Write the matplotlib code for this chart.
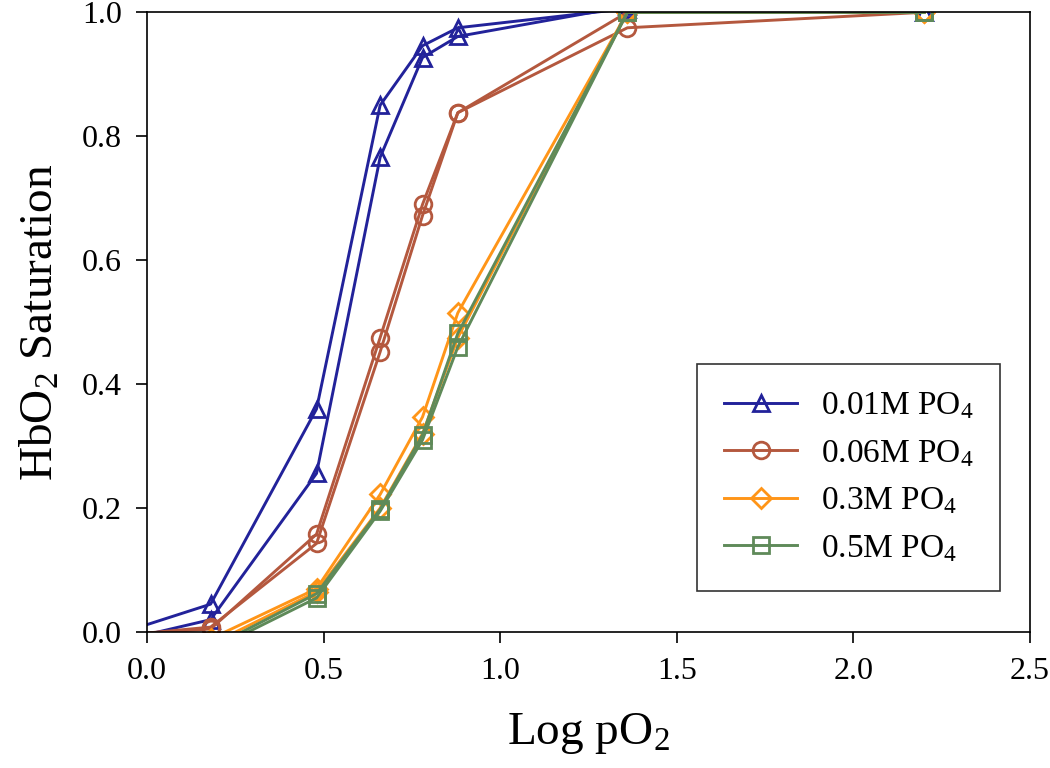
import matplotlib.pyplot as plt

plt.rcParams['font.family'] = ['Liberation Serif', 'DejaVu Serif']
plt.rcParams['mathtext.fontset'] = 'custom'
plt.rcParams['mathtext.rm'] = 'Liberation Serif'
plt.rcParams['mathtext.it'] = 'Liberation Serif:italic'
plt.rcParams['mathtext.default'] = 'regular'

# log pO2 values (first point lies outside the plotted range)
log_po2 = [-0.12, 0.18, 0.48, 0.66, 0.78, 0.88, 1.36, 2.2]
log_po2_hi = [0.18, 0.48, 0.66, 0.78, 0.88, 1.36, 2.2]

# two runs per phosphate concentration
sat_001_a = [-0.010, 0.045, 0.360, 0.850, 0.946, 0.975, 1.006, 1.0]
sat_001_b = [-0.020, 0.020, 0.256, 0.766, 0.927, 0.961, 1.010, 1.0]
sat_006_a = [-0.006, 0.005, 0.158, 0.475, 0.690, 0.838, 0.975, 1.0]
sat_006_b = [-0.008, 0.008, 0.143, 0.452, 0.672, 0.838, 1.000, 1.0]
sat_03_a = [-0.011, 0.070, 0.222, 0.347, 0.515, 1.0, 1.0]
sat_03_b = [-0.020, 0.065, 0.200, 0.320, 0.475, 1.0, 1.0]
sat_05_a = [-0.026, 0.062, 0.198, 0.318, 0.482, 1.0, 1.0]
sat_05_b = [-0.030, 0.055, 0.195, 0.310, 0.460, 1.0, 1.0]

labels = ['0.01M PO$_4$', '0.06M PO$_4$', '0.3M PO$_4$', '0.5M PO$_4$']
colors = ['#22229a', '#b4583e', '#ff9518', '#5f8a59']
markers = ['^', 'o', 'D', 's']
msizes = [12, 12, 10, 11]

series = [
    (log_po2, [sat_001_a, sat_001_b]),
    (log_po2, [sat_006_a, sat_006_b]),
    (log_po2_hi, [sat_03_a, sat_03_b]),
    (log_po2_hi, [sat_05_a, sat_05_b]),
]

fig = plt.figure(figsize=(10.5, 7.68), dpi=100)
ax = fig.add_axes([0.14, 0.177, 0.841, 0.807])

for k, (xs, runs) in enumerate(series):
    for j, ys in enumerate(runs):
        ax.plot(xs, ys, color=colors[k], marker=markers[k], ms=msizes[k],
                mfc='none', mew=2.0, lw=2.1,
                label=labels[k] if j == 0 else None)

ax.set_xlim(0, 2.5)
ax.set_ylim(0, 1.0)
ax.set_xticks([0.0, 0.5, 1.0, 1.5, 2.0, 2.5])
ax.set_yticks([0.0, 0.2, 0.4, 0.6, 0.8, 1.0])
ax.xaxis.set_major_formatter(plt.FormatStrFormatter('%.1f'))
ax.yaxis.set_major_formatter(plt.FormatStrFormatter('%.1f'))
ax.tick_params(direction='out', length=8, width=1.2, labelsize=23, pad=10,
               top=False, right=False)
for sp in ax.spines.values():
    sp.set_linewidth(1.2)

ax.set_xlabel('Log pO$_2$', fontsize=34, labelpad=18)
ax.set_ylabel('HbO$_2$ Saturation', fontsize=34, labelpad=14)

leg = ax.legend(loc='lower right', bbox_to_anchor=(0.985, 0.04), fontsize=24,
                frameon=True, fancybox=False, edgecolor='black',
                handlelength=2.2, borderpad=0.8, labelspacing=0.5,
                handletextpad=0.7)
leg.get_frame().set_linewidth(1.2)

fig.savefig('out.png', dpi=100)
